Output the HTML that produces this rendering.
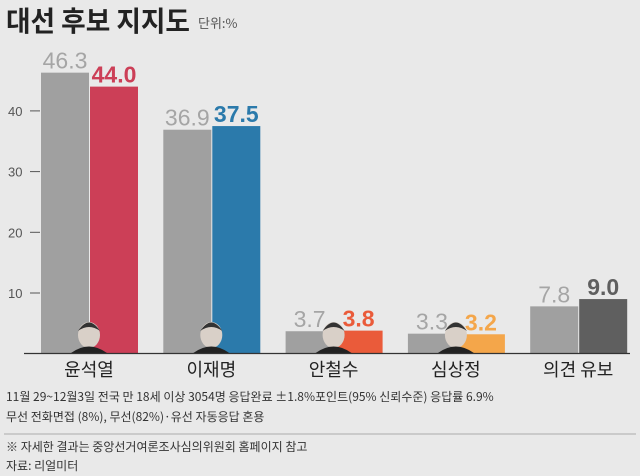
<!DOCTYPE html>
<html><head><meta charset="utf-8"><style>
body{margin:0;background:#e9e9e9;width:640px;height:476px;overflow:hidden;font-family:"Liberation Sans","Noto Sans CJK KR",sans-serif;}
svg{display:block}
</style></head><body>
<svg width="640" height="476" xmlns="http://www.w3.org/2000/svg">
<rect width="640" height="476" fill="#e9e9e9"/>
<text x="6" y="31" font-size="28" font-weight="bold" fill="#222" font-family="Noto Sans CJK KR,sans-serif" textLength="184" lengthAdjust="spacingAndGlyphs">대선 후보 지지도</text>
<text x="198" y="28" font-size="13" fill="#555" font-family="Noto Sans CJK KR,sans-serif">단위:%</text>
<g id="ticks"></g>
<g id="bars"></g>
<line x1="24" y1="353.5" x2="630" y2="353.5" stroke="#333" stroke-width="1.2"/>
<g font-size="12" fill="#333" font-family="Noto Sans CJK KR,sans-serif">
<text x="6" y="401">11월 29~12월3일 전국 만 18세 이상 3054명 응답완료 ±1.8%포인트(95% 신뢰수준) 응답률 6.9%</text>
<text x="6" y="421">무선 전화면접 (8%), 무선(82%)·유선 자동응답 혼용</text>
<line x1="4" y1="434" x2="636" y2="434" stroke="#aaa"/>
<text x="6" y="451">※ 자세한 결과는 중앙선거여론조사심의위원회 홈페이지 참고</text>
<text x="6" y="470">자료: 리얼미터</text>
</g>
</svg>
<script>
const categories=["윤석열","이재명","안철수","심상정","의견 유보"];
const prevValues=[46.3,36.9,3.7,3.3,7.8];
const currValues=[44.0,37.5,3.8,3.2,9.0];
const currColors=["#cc3f57","#2b7aab","#ea5b3a","#f4a64a","#5f5f5f"];
const tickValues=[10,20,30,40];
const NS="http://www.w3.org/2000/svg";
const y=v=>353.7-v*6.07;
const gx=i=>41+i*122.3;
const ticks=document.getElementById('ticks'),bars=document.getElementById('bars');
function mk(t,a,p){const e=document.createElementNS(NS,t);for(const k in a)e.setAttribute(k,a[k]);p.appendChild(e);return e;}
tickValues.forEach(v=>{
 const t=mk('text',{x:8,y:y(v)+5,'font-size':13,fill:'#555'},ticks);t.textContent=v;
 
 
 const l=mk('line',{x1:30,x2:40,y1:y(v),y2:y(v),stroke:'#555'},ticks);
 
 
});
categories.forEach((c,i)=>{
 const x=gx(i);
 const b1=mk('rect',{x:x,y:y(prevValues[i]),width:48,height:353.7-y(prevValues[i]),fill:'#a0a0a0'},bars);
 
 
 const b2=mk('rect',{x:x+49,y:y(currValues[i]),width:48,height:353.7-y(currValues[i]),fill:currColors[i]},bars);
 
 
 if(i<4){
  const f=mk('ellipse',{cx:x+48,cy:335,rx:11,ry:13,fill:'#d9d0c8'},bars);
  
  
  const s=mk('path',{d:`M${x+30} 353 Q${x+48} 340 ${x+66} 353 Z`,fill:'#222'},bars);
  
  
  const h=mk('path',{d:`M${x+37} 331 Q${x+48} 314 ${x+59} 331 Q${x+48} 323 ${x+37} 331Z`,fill:'#333'},bars);
  
  
 }
 const t1=mk('text',{x:x+24,y:y(prevValues[i])-4,'font-size':23,fill:'#a5a5a5','text-anchor':'middle'},bars);
 t1.textContent=prevValues[i].toFixed(1);
 
 
 const t2=mk('text',{x:x+73,y:y(currValues[i])-4,'font-size':23,'font-weight':'bold',fill:currColors[i],'text-anchor':'middle'},bars);
 t2.textContent=currValues[i].toFixed(1);
 
 
 const l=mk('text',{x:x+48,y:376,'font-size':18,fill:'#222','text-anchor':'middle','font-family':'Noto Sans CJK KR,sans-serif'},bars);
 l.textContent=c;
 
 
});
</script>
</body></html>
